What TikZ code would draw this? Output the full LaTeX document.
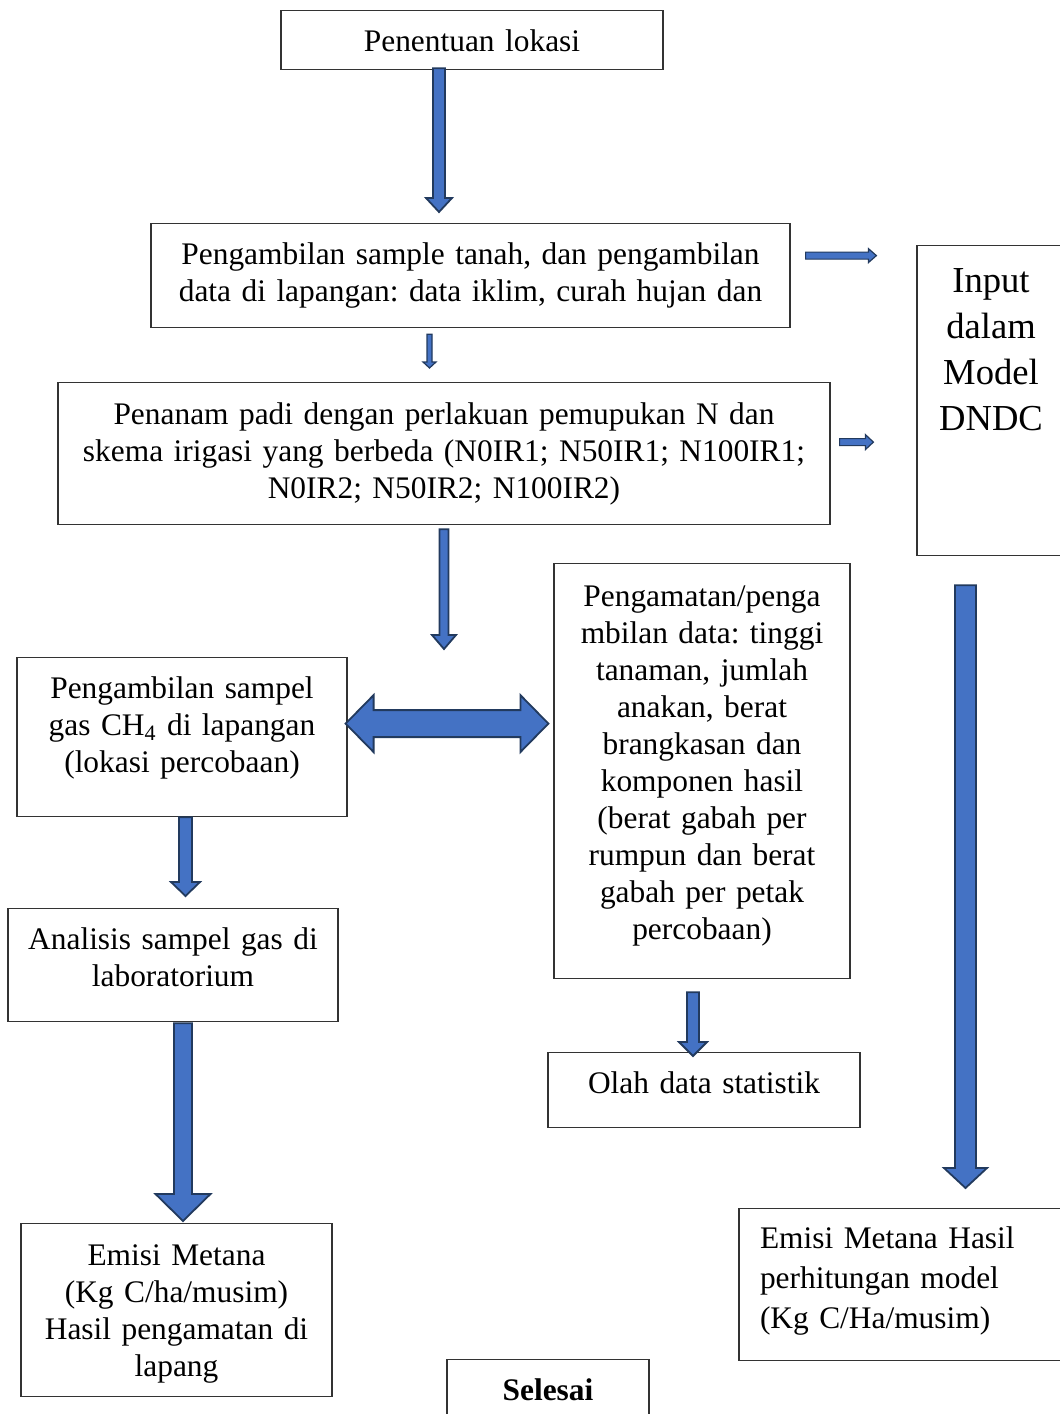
\documentclass[tikz,border=0pt]{standalone}
\usepackage{fontspec}
\setmainfont{Liberation Serif}
\frenchspacing
\usetikzlibrary{calc}
\definecolor{arrowfill}{HTML}{4472C4}
\definecolor{arrowedge}{HTML}{223A5E}
\tikzset{
  ashaft/.store in=\ashaft, ashaft=3pt,
  ahead/.store in=\ahead, ahead=6pt,
  atip/.store in=\atip, atip=7pt,
  stepbox/.style={
    draw=black!80,
    line width=0.6pt,
    anchor=north,
    align=center,
    inner xsep=4pt,
    inner ysep=0pt,
    text height=20.5pt,
    font=\fontsize{15.7pt}{18.5pt}\selectfont
  },
  modelbox/.style={
    stepbox,
    text height=23.25pt,
    font=\fontsize{18.3pt}{23pt}\selectfont
  },
  resultbox/.style={
    stepbox,
    align=left,
    inner xsep=10.5pt,
    text height=20pt,
    font=\fontsize{15.7pt}{20pt}\selectfont
  },
  blockarrow/.style={
    draw=arrowedge,
    fill=arrowfill,
    line width=0.9pt,
    line join=miter,
    to path={
      ($(\tikztostart)!\ashaft!90:(\tikztotarget)$)
      -- ($(\tikztotarget)!\atip!(\tikztostart)!\ashaft!90:(\tikztotarget)$)
      -- ($(\tikztotarget)!\atip!(\tikztostart)!\ahead!90:(\tikztotarget)$)
      -- (\tikztotarget)
      -- ($(\tikztotarget)!\atip!(\tikztostart)!\ahead!-90:(\tikztotarget)$)
      -- ($(\tikztotarget)!\atip!(\tikztostart)!\ashaft!-90:(\tikztotarget)$)
      -- ($(\tikztostart)!\ashaft!-90:(\tikztotarget)$)
      -- cycle
    }
  },
  dblarrow/.style={
    draw=arrowedge,
    fill=arrowfill,
    line width=0.9pt,
    line join=miter,
    to path={
      (\tikztostart)
      -- ($(\tikztostart)!\atip!(\tikztotarget)!\ahead!90:(\tikztotarget)$)
      -- ($(\tikztostart)!\atip!(\tikztotarget)!\ashaft!90:(\tikztotarget)$)
      -- ($(\tikztotarget)!\atip!(\tikztostart)!\ashaft!90:(\tikztotarget)$)
      -- ($(\tikztotarget)!\atip!(\tikztostart)!\ahead!90:(\tikztotarget)$)
      -- (\tikztotarget)
      -- ($(\tikztotarget)!\atip!(\tikztostart)!\ahead!-90:(\tikztotarget)$)
      -- ($(\tikztotarget)!\atip!(\tikztostart)!\ashaft!-90:(\tikztotarget)$)
      -- ($(\tikztostart)!\atip!(\tikztotarget)!\ashaft!-90:(\tikztotarget)$)
      -- ($(\tikztostart)!\atip!(\tikztotarget)!\ahead!-90:(\tikztotarget)$)
      -- cycle
    }
  }
}

\begin{document}
\begin{tikzpicture}[x=0.5pt, y=-0.5pt]
  \useasboundingbox (0,0) rectangle (1060,1414);
  \node[stepbox, text width=183pt, text depth=9pt] (lokasi) at (472,10) {Penentuan lokasi};
  \node[stepbox, text width=311.5pt, text depth=31.5pt] (sampel) at (470.5,223) {Pengambilan sample tanah, dan pengambilan\\data di lapangan: data iklim, curah hujan dan};
  \node[stepbox, text width=378pt, text height=21pt, text depth=50pt] (tanam) at (444,382) {Penanam padi dengan perlakuan pemupukan N dan\\skema irigasi yang berbeda (N0IR1; N50IR1; N100IR1;\\N0IR2; N50IR2; N100IR2)};
  \node[modelbox, text width=66pt, text depth=131.75pt] (model) at (991,245) {Input\\dalam\\Model\\DNDC};
  \node[stepbox, text width=157pt, text depth=59pt] (gas) at (182,657) {Pengambilan sampel\\gas CH\textsubscript{4} di lapangan\\(lokasi percobaan)};
  \node[stepbox, text width=140pt, text height=21.5pt, text depth=186pt] (amati) at (702,563) {Pengamatan/penga\\mbilan data: tinggi\\tanaman, jumlah\\anakan, berat\\brangkasan dan\\komponen hasil\\(berat gabah per\\rumpun dan berat\\gabah per petak\\percobaan)};
  \node[stepbox, text width=157pt, text depth=36pt] (lab) at (173,908) {Analisis sampel gas di\\laboratorium};
  \node[stepbox, text width=148pt, text depth=17pt] (olah) at (704,1052) {Olah data statistik};
  \node[stepbox, text width=147.5pt, text height=21pt, text depth=65.5pt] (emisilap) at (176.5,1223) {Emisi Metana\\(Kg C/ha/musim)\\Hasil pengamatan di\\lapang};
  \node[resultbox, text width=142pt, text depth=56pt] (emisimod) at (902,1208) {Emisi Metana Hasil\\perhitungan model\\(Kg C/Ha/musim)};
  \node[stepbox, text width=93pt, text depth=10pt] (selesai) at (548,1359) {\textbf{Selesai}};
  \draw[blockarrow, ashaft=3pt, ahead=6.5pt, atip=7pt] ($(lokasi.south)+(-33,-2)$) to ($(sampel.north)+(-31.5,-11)$);
  \draw[blockarrow, ashaft=1.25pt, ahead=3.25pt, atip=3pt, line width=0.6pt] ($(sampel.south)+(-41,6)$) to ($(tanam.north)+(-14.5,-14)$);
  \draw[blockarrow, ashaft=1.75pt, ahead=3.5pt, atip=4pt, line width=0.6pt] ($(sampel.east)+(15,-20)$) to ($(model.west)+(-40,-145)$);
  \draw[blockarrow, ashaft=1.75pt, ahead=3.75pt, atip=4pt, line width=0.6pt] ($(tanam.east)+(9,-11.5)$) to ($(model.west)+(-43,41.5)$);
  \draw[blockarrow, ashaft=2.25pt, ahead=6pt, atip=7pt] ($(tanam.south)+(0,4)$) to ($(gas.north)+(262,-8)$);
  \draw[dblarrow, ashaft=6.75pt, ahead=14.25pt, atip=14pt] ($(gas.east)+(-2,-13.5)$) to ($(amati.west)+(-5,-47.5)$);
  \draw[blockarrow, ashaft=3.25pt, ahead=7.25pt, atip=7pt] ($(gas.south)+(3.5,0)$) to ($(lab.north)+(12.5,-12)$);
  \draw[blockarrow, ashaft=4.5pt, ahead=13.75pt, atip=13.5pt] ($(lab.south)+(10,1)$) to ($(emisilap.north)+(6.5,-2)$);
  \draw[blockarrow, ashaft=3pt, ahead=7pt, atip=7pt] ($(amati.south)+(-9,13)$) to ($(olah.north)+(-11,4)$);
  \draw[blockarrow, ashaft=5.25pt, ahead=10.75pt, atip=10pt] ($(model.south)+(-25.5,29)$) to ($(emisimod.north)+(63.5,-20)$);
\end{tikzpicture}
\end{document}
